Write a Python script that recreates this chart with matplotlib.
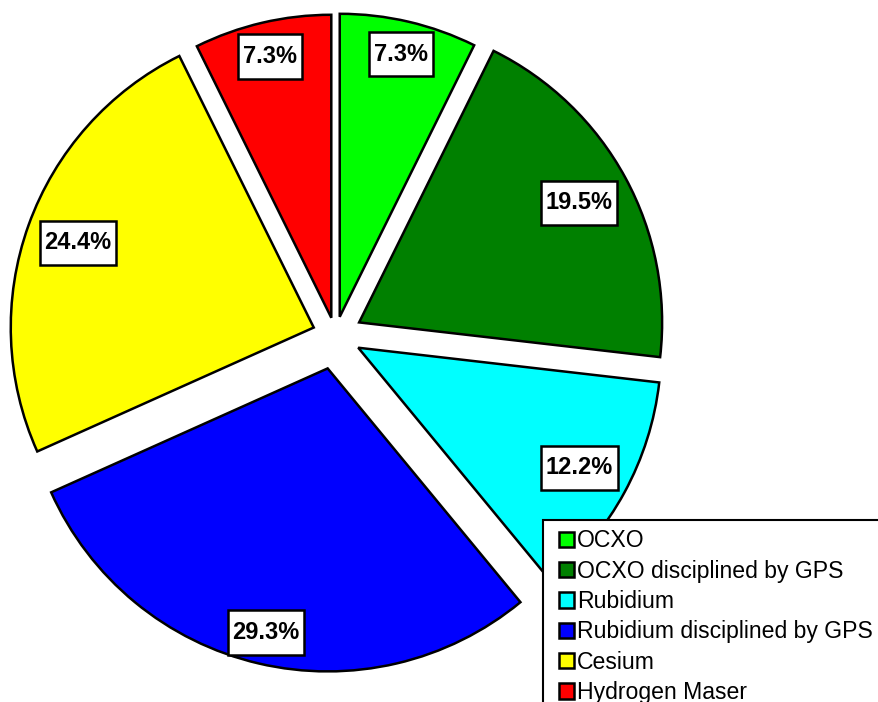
import numpy as np
import matplotlib as mpl
mpl.use('Agg')
import matplotlib.pyplot as plt
from matplotlib.patches import Rectangle, Wedge
from matplotlib.lines import Line2D
from matplotlib.path import Path
from matplotlib.legend_handler import HandlerPatch

# ── data ──────────────────────────────────────────────────────────────
categories = ['OCXO', 'OCXO disciplined by GPS', 'Rubidium',
              'Rubidium disciplined by GPS', 'Cesium', 'Hydrogen Maser']
counts = [3, 8, 5, 12, 10, 3]          # 41 in total -> 7.3%, 19.5%, ...
colors = ['#00FF00', '#008000', '#00FFFF', '#0000FF', '#FFFF00', '#FF0000']

# ── layout (pixels, figure is 879 x 702 at 100 dpi) ───────────────────
W, H = 879, 702
RADIUS = 303
CENTER = (335.4, H - 335.3)
EXPLODE = [19, 27, 26, 34, 23, 18]            # per-slice offset, px
LABEL_FRAC = [0.89, 0.825, 0.83, 0.895, 0.827, 0.886]
LEG_X, LEG_TOP = 543, 520                      # legend box corner, px

plt.rcParams['font.family'] = ['Liberation Sans', 'DejaVu Sans']


def label_box(x0, y0, width, height, mutation_size):
    # plain rectangle, more padding top/bottom than left/right
    px, py = 0.2 * mutation_size, 0.45 * mutation_size
    x0, y0 = x0 - px, y0 - py
    x1, y1 = x0 + width + 2 * px, y0 + height + 2 * py
    return Path([(x0, y0), (x1, y0), (x1, y1), (x0, y1), (x0, y0)],
                closed=True)


def square_handle(legend, orig_handle, xdescent, ydescent, width, height,
                  fontsize):
    s = 0.66 * fontsize
    return Rectangle((-xdescent + width - s, -ydescent + (height - s) / 2),
                     s, s)


fig = plt.figure(figsize=(W / 100, H / 100), dpi=100)
ax = fig.add_axes([0, 0, 1, 1])

wedges, _ = ax.pie(counts, colors=colors, explode=EXPLODE, radius=RADIUS,
                   center=CENTER, startangle=90, counterclock=False,
                   wedgeprops=dict(edgecolor='black', linewidth=1.8))
ax.set_xlim(0, W)
ax.set_ylim(0, H)
ax.set_aspect('equal')
ax.axis('off')

total = sum(counts)
for w, c, frac in zip(wedges, counts, LABEL_FRAC):
    mid = np.deg2rad(0.5 * (w.theta1 + w.theta2))
    cx, cy = w.center
    x = cx + frac * RADIUS * np.cos(mid)
    y = cy + frac * RADIUS * np.sin(mid)
    ax.text(x, y, f'{100 * c / total:.1f}%', ha='center', va='center',
            fontsize=17, fontweight='bold',
            bbox=dict(boxstyle=label_box, facecolor='white',
                      edgecolor='black', linewidth=1.8))

# legend box runs off the right and bottom edge of the figure:
# white fill + only the top and left border lines
lx, ly = LEG_X / W, 1 - LEG_TOP / H
ax.add_patch(Rectangle((lx, 0), 1 - lx, ly, transform=fig.transFigure,
                       facecolor='white', edgecolor='none', zorder=4.5,
                       clip_on=False))
ax.add_line(Line2D([lx, lx, 1], [0, ly, ly], transform=fig.transFigure,
                   color='black', linewidth=1.5, zorder=4.6,
                   solid_joinstyle='miter', clip_on=False))
leg = ax.legend(wedges, categories, loc='upper left',
                bbox_to_anchor=(lx, ly),
                bbox_transform=fig.transFigure, borderaxespad=0,
                fontsize=16.6, handlelength=0.94, handleheight=0.7,
                handletextpad=0.15, labelspacing=0.32, borderpad=0.4,
                frameon=False,
                handler_map={Wedge: HandlerPatch(patch_func=square_handle)})

fig.savefig('out.png', dpi=100)
